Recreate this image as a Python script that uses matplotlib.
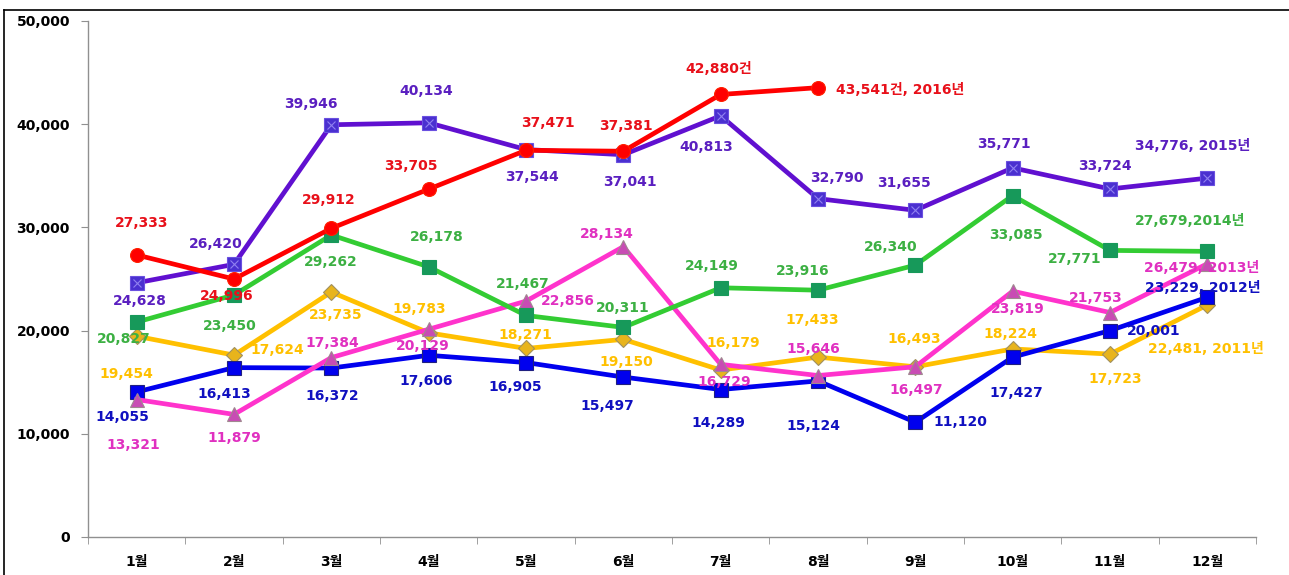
import numpy as np
import matplotlib
matplotlib.use("Agg")
import matplotlib.pyplot as plt
from matplotlib.lines import Line2D

plt.rcParams['font.family'] = ['DejaVu Sans', 'Noto Sans CJK KR']

months = ["1월", "2월", "3월", "4월", "5월", "6월", "7월", "8월", "9월", "10월", "11월", "12월"]

y2011 = [19454, 17624, 23735, 19783, 18271, 19150, 16179, 17433, 16493, 18224, 17723, 22481]
y2012 = [14055, 16413, 16372, 17606, 16905, 15497, 14289, 15124, 11120, 17427, 20001, 23229]
y2013 = [13321, 11879, 17384, 20129, 22856, 28134, 16729, 15646, 16497, 23819, 21753, 26479]
y2014 = [20827, 23450, 29262, 26178, 21467, 20311, 24149, 23916, 26340, 33085, 27771, 27679]
y2015 = [24628, 26420, 39946, 40134, 37544, 37041, 40813, 32790, 31655, 35771, 33724, 34776]
y2016 = [27333, 24996, 29912, 33705, 37471, 37381, 42880, 43541]

# label suffixes (last point of each year)
last_text = {
    "2011": ", 2011년", "2012": ", 2012년", "2013": ", 2013년",
    "2014": ",2014년", "2015": ", 2015년", "2016": "건, 2016년",
}

# label offsets in pixels (dx, dy) with screen y going down, plus alignment
off2011 = [(-10, 38), (43, -5), (4, 23), (-9, -24), (-1, -13), (3, 23), (13, -27), (-6, -37), (-1, -28), (-2, -15), (5, 25), (-1, 44)]
off2012 = [(-14, 25), (-10, 26), (1, 28), (-2, 26), (-11, 24), (-16, 29), (-2, 33), (-5, 45), (18, 0, 'left'), (4, 36), (17, 0, 'left'), (-5, -9)]
off2013 = [(-3, 45), (0, 24), (1, -15), (-6, 17), (42, 0), (-17, -13), (4, 18), (-5, -27), (1, 23), (5, 18), (-14, -15), (-6, 4)]
off2014 = [(-13, 17), (-4, 31), (-1, 27), (8, -30), (-3, -31), (-1, -19), (-9, -22), (-15, -19), (-25, -18), (3, 39), (-35, 9), (-17, -30)]
off2015 = [(3, 18), (-18, -20), (-20, -21), (-2, -32), (6, 27), (7, 27), (-14, 31), (19, -21), (-11, -27), (-9, -24), (-5, -23), (-15, -32)]
off2016 = [(5, -32), (-7, 17), (-3, -28), (-18, -23), (22, -27), (3, -25), (-2, -25), (18, 2, 'left')]

series = [
    ("2011", y2011, off2011, dict(color="#FFC000", marker="D", ms=8, mfc="#E8B41C", mec="#A09060", mew=0.8), "#FFC000"),
    ("2012", y2012, off2012, dict(color="#0000EE", marker="s", ms=9.5, mfc="#0000EE", mec="#202080", mew=0.8), "#1010C0"),
    ("2013", y2013, off2013, dict(color="#FF33CC", marker="^", ms=10, mfc="#C84CB4", mec="#A08890", mew=0.8), "#E030C0"),
    ("2014", y2014, off2014, dict(color="#33CC33", marker="s", ms=9.5, mfc="#17995A", mec="#17995A", mew=0.8), "#3CB043"),
    ("2015", y2015, off2015, dict(color="#6010D0", marker="s", ms=10, mfc="#4A30D0", mec="#6A50E0", mew=0.8), "#5A1FC0"),
    ("2016", y2016, off2016, dict(color="#FF0000", marker="o", ms=10, mfc="#FF0000", mec="#FF2000", mew=0.8), "#E8101A"),
]

fig = plt.figure(figsize=(12.89, 5.75), dpi=100)
ax = fig.add_axes([88 / 1289, 38 / 575, 1168 / 1289, 516 / 575])

x = np.arange(1, 13)
for i, (name, vals, offs, style, tcol) in enumerate(series):
    xs = x[:len(vals)]
    ax.plot(xs, vals, lw=3.4, zorder=2 + i, **style)
    if name == "2015":
        # the x inside the square markers
        ax.plot(xs, vals, ls="none", marker="x", ms=6, mec="#9080F0", mew=0.8, zorder=2 + i)
    for j, v in enumerate(vals):
        o = offs[j]
        ha = o[2] if len(o) > 2 else "center"
        txt = f"{v:,}"
        if j == len(vals) - 1:
            txt += last_text[name]
        elif name == "2016" and j == 6:
            txt += "건"
        ax.annotate(txt, (xs[j], v), xytext=(o[0], -o[1]), textcoords="offset pixels",
                    ha=ha, va="center", fontsize=10, fontweight="bold", color=tcol, zorder=20)

ax.set_xlim(0.5, 12.5)
ax.set_ylim(0, 50000)
ax.set_yticks(np.arange(0, 50001, 10000))
ax.set_yticklabels([f"{t:,}" for t in range(0, 50001, 10000)], fontsize=10, fontweight="bold")
ax.set_xticks(x)
ax.set_xticklabels(months, fontsize=10, fontweight="bold")
ax.set_xticks(np.arange(0.5, 12.6, 1), minor=True)
ax.tick_params(axis="x", which="major", length=0, pad=13)
ax.tick_params(axis="x", which="minor", length=5, color="#909090", direction="out")
ax.tick_params(axis="y", length=5, color="#909090", pad=8)

for s in ["top", "right"]:
    ax.spines[s].set_visible(False)
for s in ["left", "bottom"]:
    ax.spines[s].set_color("#909090")
    ax.spines[s].set_linewidth(1)

# outer frame
fig.add_artist(Line2D([4 / 1289, 1.0], [1 - 10 / 575, 1 - 10 / 575], color="black", lw=1.2, transform=fig.transFigure))
fig.add_artist(Line2D([4 / 1289, 4 / 1289], [0, 1 - 10 / 575], color="black", lw=1.2, transform=fig.transFigure))

fig.savefig("out.png", dpi=100)
